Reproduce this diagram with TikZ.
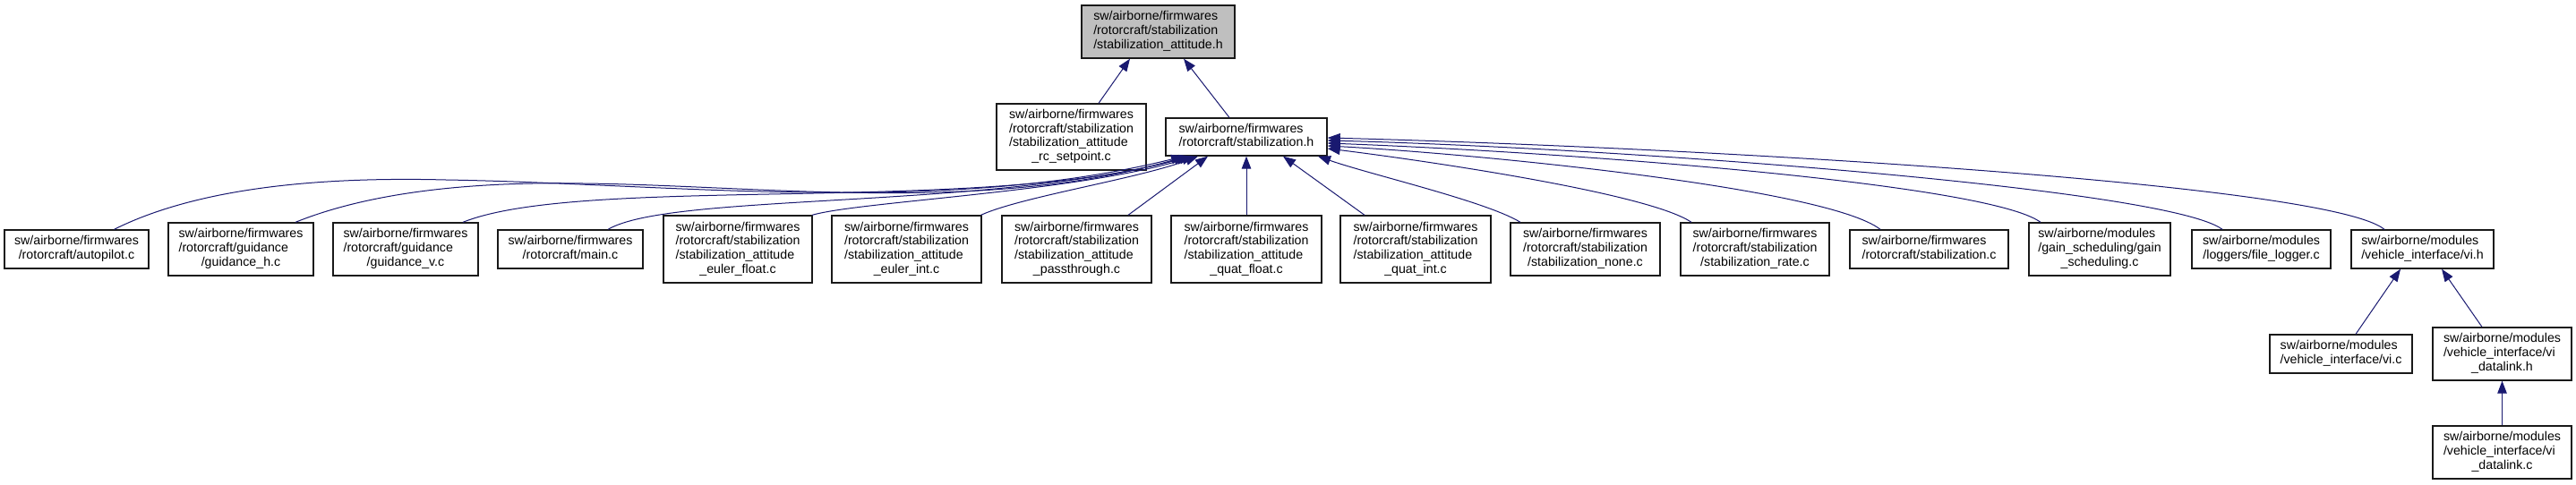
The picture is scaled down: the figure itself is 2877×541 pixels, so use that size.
\documentclass[tikz,border=0pt]{standalone}
\usepackage{fontspec}
\setmainfont{Liberation Sans}
\usetikzlibrary{arrows.meta}
\definecolor{midnight}{HTML}{191970}
\newcommand{\flabel}[2]{\begin{tabular}{@{}l@{}}#1\\\multicolumn{1}{@{}c@{}}{#2}\end{tabular}}

\begin{document}
\begin{tikzpicture}[x=1pt, y=-1pt, font=\fontsize{14.2}{15.7}\selectfont,
    filebox/.style={draw=black!90, line width=1.3pt, fill=white, inner sep=0pt},
    rootbox/.style={filebox, fill=black!25},
    incl/.style={draw=midnight, line width=1pt, -{Triangle[length=14pt,width=10.5pt]}}]
    \useasboundingbox (0,0) rectangle (2877,541);

    \node[rootbox, minimum width=171pt, minimum height=59pt] (statt) at (1293.5,35.5)
      {\flabel{sw/airborne/firmwares\\/rotorcraft/stabilization}{/stabilization\_attitude.h}};

    \node[filebox, minimum width=167pt, minimum height=74pt] (rcsp) at (1196.5,153)
      {\flabel{sw/airborne/firmwares\\/rotorcraft/stabilization\\/stabilization\_attitude}{\_rc\_setpoint.c}};
    \node[filebox, minimum width=180pt, minimum height=42pt] (stabh) at (1392,153)
      {\flabel{sw/airborne/firmwares}{/rotorcraft/stabilization.h}};

    \node[filebox, minimum width=161pt, minimum height=43pt] (autopilot) at (85.5,278.5)
      {\flabel{sw/airborne/firmwares}{/rotorcraft/autopilot.c}};
    \node[filebox, minimum width=162pt, minimum height=59pt] (guidh) at (269,278.5)
      {\flabel{sw/airborne/firmwares\\/rotorcraft/guidance}{/guidance\_h.c}};
    \node[filebox, minimum width=162pt, minimum height=59pt] (guidv) at (453,278.5)
      {\flabel{sw/airborne/firmwares\\/rotorcraft/guidance}{/guidance\_v.c}};
    \node[filebox, minimum width=162pt, minimum height=43pt] (mainc) at (637,278.5)
      {\flabel{sw/airborne/firmwares}{/rotorcraft/main.c}};
    \node[filebox, minimum width=166pt, minimum height=75pt] (eulf) at (824,278.5)
      {\flabel{sw/airborne/firmwares\\/rotorcraft/stabilization\\/stabilization\_attitude}{\_euler\_float.c}};
    \node[filebox, minimum width=167pt, minimum height=75pt] (euli) at (1012.5,278.5)
      {\flabel{sw/airborne/firmwares\\/rotorcraft/stabilization\\/stabilization\_attitude}{\_euler\_int.c}};
    \node[filebox, minimum width=167pt, minimum height=75pt] (pass) at (1202.5,278.5)
      {\flabel{sw/airborne/firmwares\\/rotorcraft/stabilization\\/stabilization\_attitude}{\_passthrough.c}};
    \node[filebox, minimum width=168pt, minimum height=75pt] (quatf) at (1392,278.5)
      {\flabel{sw/airborne/firmwares\\/rotorcraft/stabilization\\/stabilization\_attitude}{\_quat\_float.c}};
    \node[filebox, minimum width=168pt, minimum height=75pt] (quati) at (1581,278.5)
      {\flabel{sw/airborne/firmwares\\/rotorcraft/stabilization\\/stabilization\_attitude}{\_quat\_int.c}};
    \node[filebox, minimum width=167pt, minimum height=59pt] (snone) at (1770.5,278.5)
      {\flabel{sw/airborne/firmwares\\/rotorcraft/stabilization}{/stabilization\_none.c}};
    \node[filebox, minimum width=166pt, minimum height=59pt] (srate) at (1960,278.5)
      {\flabel{sw/airborne/firmwares\\/rotorcraft/stabilization}{/stabilization\_rate.c}};
    \node[filebox, minimum width=177pt, minimum height=43pt] (stabc) at (2154.5,278.5)
      {\flabel{sw/airborne/firmwares}{/rotorcraft/stabilization.c}};
    \node[filebox, minimum width=158pt, minimum height=59pt] (gains) at (2345,278.5)
      {\flabel{sw/airborne/modules\\/gain\_scheduling/gain}{\_scheduling.c}};
    \node[filebox, minimum width=155pt, minimum height=43pt] (flog) at (2525.5,278.5)
      {\flabel{sw/airborne/modules}{/loggers/file\_logger.c}};
    \node[filebox, minimum width=159pt, minimum height=43pt] (vih) at (2705.5,278.5)
      {\flabel{sw/airborne/modules}{/vehicle\_interface/vi.h}};

    \node[filebox, minimum width=159pt, minimum height=43pt] (vic) at (2614.5,395.5)
      {\flabel{sw/airborne/modules}{/vehicle\_interface/vi.c}};
    \node[filebox, minimum width=155pt, minimum height=59pt] (vidlh) at (2794.5,395.5)
      {\flabel{sw/airborne/modules\\/vehicle\_interface/vi}{\_datalink.h}};
    \node[filebox, minimum width=155pt, minimum height=59pt] (vidlc) at (2794.5,505.5)
      {\flabel{sw/airborne/modules\\/vehicle\_interface/vi}{\_datalink.c}};

    \draw[incl] ([xshift=30.5pt]rcsp.north) -- ([xshift=-31.5pt]statt.south);
    \draw[incl] ([xshift=-19pt]stabh.north) -- ([xshift=28.5pt]statt.south);

    \draw[incl] ([xshift=42pt]autopilot.north) .. controls (230,205) and (380,198) .. (498,201)
      .. controls (750,205) and (1050,242) .. ([xshift=-70pt]stabh.south);
    \draw[incl] ([xshift=61pt]guidh.north) .. controls (420,212) and (540,203) .. (651,205)
      .. controls (850,207) and (1100,240) .. ([xshift=-67pt]stabh.south);
    \draw[incl] ([xshift=64pt]guidv.north) .. controls (650,195) and (1100,240) .. ([xshift=-64pt]stabh.south);
    \draw[incl] ([xshift=42pt]mainc.north) .. controls (750,215) and (1100,235) .. ([xshift=-61pt]stabh.south);
    \draw[incl] ([xshift=83pt]eulf.north) .. controls (960,225) and (1200,215) .. ([xshift=-58pt]stabh.south);
    \draw[incl] ([xshift=83pt]euli.north) .. controls (1140,220) and (1270,200) .. ([xshift=-54pt]stabh.south);
    \draw[incl] ([xshift=57.5pt]pass.north) -- ([xshift=-43pt]stabh.south);
    \draw[incl] (quatf.north) -- (stabh.south);
    \draw[incl] ([xshift=-57pt]quati.north) -- ([xshift=41pt]stabh.south);
    \draw[incl] ([xshift=-72.5pt]snone.north) .. controls (1660,225) and (1530,195) .. ([xshift=80pt]stabh.south);
    \draw[incl] ([xshift=-71pt]srate.north) .. controls (1840,215) and (1580,178) .. ([yshift=-13pt]stabh.east);
    \draw[incl] ([xshift=-54.5pt]stabc.north) .. controls (2040,210) and (1650,172) .. ([yshift=-10pt]stabh.east);
    \draw[incl] ([xshift=-66pt]gains.north) .. controls (2220,205) and (1750,170) .. ([yshift=-7pt]stabh.east);
    \draw[incl] ([xshift=-43.5pt]flog.north) .. controls (2420,210) and (1800,165) .. ([yshift=-4pt]stabh.east);
    \draw[incl] ([xshift=-42.5pt]vih.north) .. controls (2600,205) and (1900,165) .. ([yshift=-1pt]stabh.east);

    \draw[incl] ([xshift=16.5pt]vic.north) -- ([xshift=-24.5pt]vih.south);
    \draw[incl] ([xshift=-22.5pt]vidlh.north) -- ([xshift=21.5pt]vih.south);
    \draw[incl] (vidlc.north) -- (vidlh.south);
  \end{tikzpicture}
\end{document}
